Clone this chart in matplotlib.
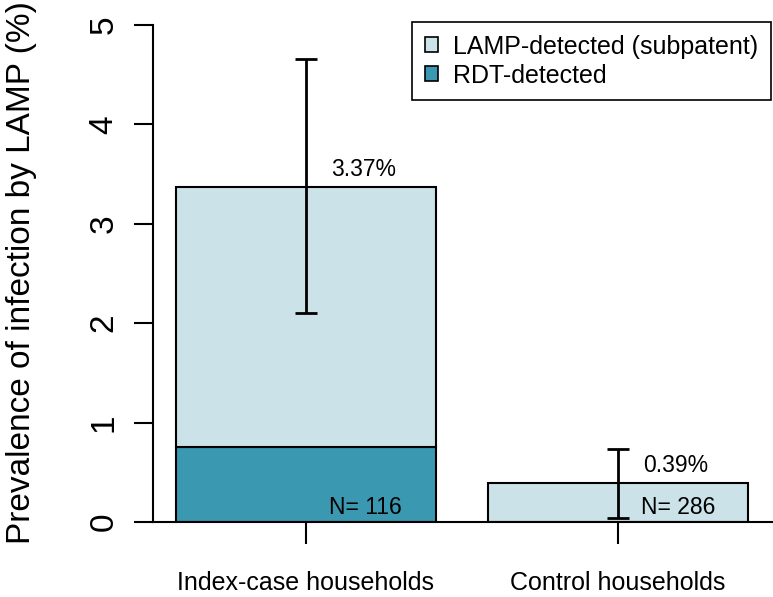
import matplotlib
matplotlib.use('Agg')
import matplotlib.pyplot as plt
from matplotlib.patches import Patch

plt.rcParams['font.family'] = ['Liberation Sans', 'DejaVu Sans']

groups = ['Index-case households', 'Control households']
rdt = [0.75, 0.0]            # RDT-detected part of the bar
total = [3.37, 0.39]         # total prevalence by LAMP (%)
ci_low = [2.10, 0.04]
ci_high = [4.66, 0.73]
n_hh = [116, 286]
pct_labels = ['3.37%', '0.39%']

light = '#cae2e8'
dark = '#3a98b0'

# R barplot style positions: width 1, space 0.2
pos = [0.7, 1.9]

fig = plt.figure(figsize=(7.73, 5.97), dpi=100)
ax = fig.add_axes([153 / 773, 75 / 597, 618 / 773, 497 / 597])

sub = [t - r for t, r in zip(total, rdt)]
for i in range(len(groups)):
    if rdt[i] > 0:
        ax.bar(pos[i], rdt[i], width=1, color=dark, edgecolor='black', linewidth=1.5)
    ax.bar(pos[i], sub[i], bottom=rdt[i], width=1, color=light, edgecolor='black', linewidth=1.5)

yerr = [[t - lo for t, lo in zip(total, ci_low)], [hi - t for t, hi in zip(total, ci_high)]]
ax.errorbar(pos, total, yerr=yerr, fmt='none', ecolor='black', elinewidth=2,
            capsize=8, capthick=2)

for i in range(len(groups)):
    ax.text(pos[i] + 0.22, total[i] + 0.06, pct_labels[i], ha='center', va='bottom', fontsize=16.5)
    ax.text(pos[i] + 0.23, 0.03, 'N= %d' % n_hh[i], ha='center', va='bottom', fontsize=16.5)

ax.set_xlim(0.112, 2.488)
ax.set_ylim(0, 5)

for s in ['top', 'right', 'bottom']:
    ax.spines[s].set_visible(False)
ax.spines['left'].set_linewidth(1.5)
ax.axhline(0, xmin=0, xmax=1.004, color='black', linewidth=1.5, clip_on=False)

ax.set_yticks([0, 1, 2, 3, 4, 5])
ax.set_yticklabels(['0', '1', '2', '3', '4', '5'], rotation=90, va='center', fontsize=24)
ax.tick_params(axis='y', length=14, width=1.5, pad=10)
ax.set_xticks(pos)
ax.set_xticklabels(groups, fontsize=18)
ax.tick_params(axis='x', length=16, width=1.5, pad=19)

fig.text(22 / 773, 1 - 273 / 597, 'Prevalence of infection by LAMP (%)', rotation=90,
         ha='center', va='center', fontsize=24)

handles = [Patch(facecolor=light, edgecolor='black', linewidth=1.2),
           Patch(facecolor=dark, edgecolor='black', linewidth=1.2)]
leg = ax.legend(handles, ['LAMP-detected (subpatent)', 'RDT-detected'], loc='upper right',
                bbox_to_anchor=(1.0, 1.006), fontsize=18, fancybox=False, framealpha=1,
                edgecolor='black', handlelength=0.55, handleheight=0.55, handletextpad=0.6,
                borderpad=0.5, labelspacing=0.2, borderaxespad=0)
leg.get_frame().set_linewidth(1.2)

fig.savefig('out.png', dpi=100)
